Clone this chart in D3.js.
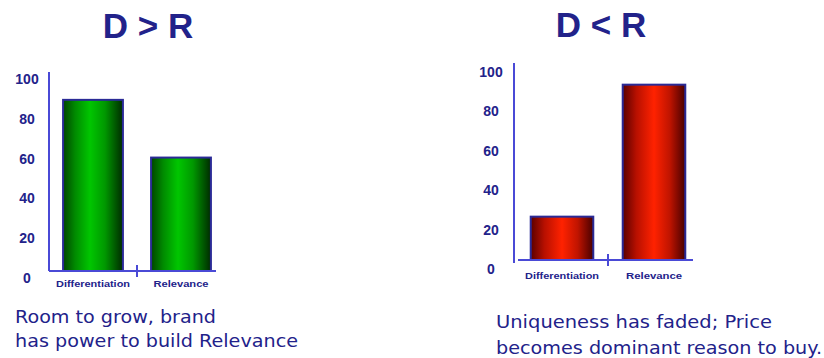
<!DOCTYPE html>
<html><head><meta charset="utf-8">
<script src="https://cdn.jsdelivr.net/npm/d3@7"></script>
<style>body{margin:0;background:#fff}svg{display:block}</style>
</head><body>
<script>
// ---- data ----
const categories = ["Differentiation", "Relevance"];
const leftValues = [86, 57];
const rightValues = [22, 89];
const yTicks = [0, 20, 40, 60, 80, 100];
const titles = ["D > R", "D < R"];
const leftCaption = ["Room to grow, brand", "has power to build Relevance"];
const rightCaption = ["Uniqueness has faded; Price", "becomes dominant reason to buy."];

const W = 824, H = 358;
const svg = d3.select("body").append("svg").attr("width", W).attr("height", H);
const defs = svg.append("defs");
function grad(id, stops) {
  const g = defs.append("linearGradient").attr("id", id).attr("x1", "0%").attr("x2", "100%").attr("y1", "0%").attr("y2", "0%");
  stops.forEach(s => g.append("stop").attr("offset", s[0]).attr("stop-color", s[1]));
}
grad("gGreen", [["0%", "#004400"], ["20%", "#008a00"], ["45%", "#00c600"], ["70%", "#009800"], ["100%", "#002a00"]]);
grad("gRed", [["0%", "#5a0000"], ["22%", "#b81000"], ["50%", "#ff2200"], ["75%", "#c01400"], ["100%", "#480000"]]);

const navy = "#22228a", axisBlue = "#4a4ad6", barStroke = "#2a2a96";

const panels = [
  { values: leftValues, title: titles[0], caption: leftCaption, fill: "url(#gGreen)",
    yAxisX: 49, base: 271, top: 72, yAxisBottom: 271, band: [49, 225], xAxisLine: [49, 216],
    labelOffset: 6.5, labelDx: -22, catDy: 12.5, catLen: [74, 55],
    titleX: 148, titleY: 38, capX: 15, capY: [323, 347], capLen: [201, 283] },
  { values: rightValues, title: titles[1], caption: rightCaption, fill: "url(#gRed)",
    yAxisX: 514, base: 260, top: 63, yAxisBottom: 263, band: [516, 700], xAxisLine: [518, 693],
    labelOffset: 8.5, labelDx: -23, catDy: 16, catLen: [74, 56],
    titleX: 601, titleY: 37, capX: 496, capY: [328, 354], capLen: [276, 326] }
];

panels.forEach(p => {
  const g = svg.append("g");
  const y = d3.scaleLinear().domain([0, 100]).range([p.base, p.top]);
  const x = d3.scaleBand().domain(categories).range(p.band).paddingInner(0.32).paddingOuter(0.16);

  // title
  g.append("text").attr("x", p.titleX).attr("y", p.titleY).attr("text-anchor", "middle")
    .attr("font-family", "Liberation Sans, Arial, sans-serif").attr("font-weight", "bold")
    .attr("font-size", 35).attr("fill", navy).text(p.title);

  // bars
  g.selectAll("rect.bar").data(p.values).join("rect").attr("class", "bar")
    .attr("x", (d, i) => x(categories[i])).attr("width", x.bandwidth())
    .attr("y", d => y(d)).attr("height", d => y(0) - y(d))
    .attr("fill", p.fill).attr("stroke", barStroke).attr("stroke-width", 2);

  // y axis
  const ya = g.append("g").attr("transform", `translate(${p.yAxisX},0)`)
    .call(d3.axisLeft(y).tickValues(yTicks).tickSize(0).tickSizeOuter(0).tickFormat(d3.format("d")));
  ya.select(".domain").attr("d", `M0,${p.yAxisBottom}V${p.top}`).attr("stroke", axisBlue).attr("stroke-width", 2);
  ya.selectAll(".tick text").attr("x", p.labelDx).attr("dy", p.labelOffset + 5).attr("text-anchor", "middle")
    .attr("font-family", "Liberation Sans, Arial, sans-serif").attr("font-weight", "bold")
    .attr("font-size", 14).attr("fill", navy);

  // x axis
  const xa = g.append("g").attr("transform", `translate(0,${p.base})`)
    .call(d3.axisBottom(x).tickSize(0).tickSizeOuter(0));
  xa.select(".domain").attr("d", `M${p.xAxisLine[0]},0H${p.xAxisLine[1]}`).attr("stroke", axisBlue).attr("stroke-width", 2);
  xa.selectAll(".tick text").attr("y", 0).attr("dy", p.catDy + 3)
    .attr("font-family", "Liberation Sans, Arial, sans-serif").attr("font-weight", "bold")
    .attr("font-size", 9).attr("fill", navy)
    .attr("textLength", (d, i) => p.catLen[i]).attr("lengthAdjust", "spacingAndGlyphs");
  const boundary = (x(categories[0]) + x.bandwidth() + x(categories[1])) / 2;
  xa.append("line").attr("x1", boundary).attr("x2", boundary).attr("y1", -6).attr("y2", 6)
    .attr("stroke", axisBlue).attr("stroke-width", 2);

  // caption
  p.caption.forEach((t, i) => {
    g.append("text").attr("x", p.capX).attr("y", p.capY[i])
      .attr("font-family", "DejaVu Sans, Verdana, sans-serif").attr("font-size", 17)
      .attr("fill", navy).attr("textLength", p.capLen[i]).attr("lengthAdjust", "spacingAndGlyphs").text(t);
  });
});
</script>
</body></html>
